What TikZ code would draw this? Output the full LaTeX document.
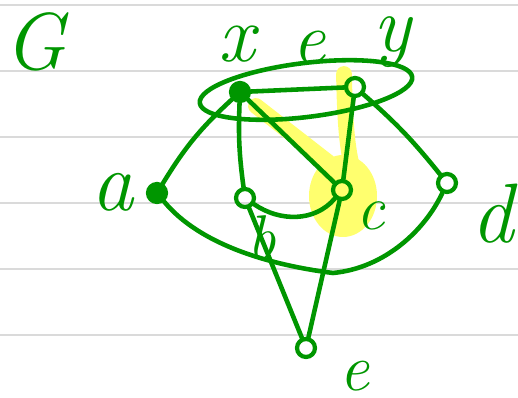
\documentclass[tikz,border=0pt]{standalone}
\definecolor{pen}{RGB}{0,150,0}
\definecolor{hl}{RGB}{255,255,110}
\definecolor{rulecol}{RGB}{218,218,218}
\newcommand\lblsize[1]{\itshape\fontsize{#1}{#1}\selectfont}
\begin{document}
\begin{tikzpicture}[x=0.02cm,y=-0.02cm,
  edge/.style={draw=pen,line width=2.6pt,line cap=round,line join=round},
  vtx/.style={circle,draw=pen,line width=2.4pt,minimum size=0.36cm,inner sep=0pt},
  vfill/.style={vtx,fill=pen},
  lbl/.style={text=pen,inner sep=0pt},
  hlstroke/.style={draw=hl,line width=9pt,line cap=round}]
\useasboundingbox (0,0) rectangle (518,398);
\fill[white] (0,0) rectangle (518,398);
\foreach \yy in {5,71,137,203,269,335} \draw[rulecol,line width=1.2pt] (0,\yy) -- (518,\yy);
% highlight
\fill[hl] (343,196) ellipse [x radius=34,y radius=41];
\draw[hlstroke] (256,106) -- (328,162);
\draw[hlstroke] (344,74) .. controls (345,130) and (348,160) .. (357,182);
% vertices
\node[vfill] (x) at (240,92) {};
\node[vtx] (y) at (355,87) {};
\node[vfill] (a) at (157,193) {};
\node[vtx] (b) at (245,198) {};
\node[vtx] (c) at (342,190) {};
\node[vtx] (d) at (447,183) {};
\node[vtx] (e) at (306,348) {};
% ellipse around x and y
\draw[edge,rotate around={7:(306,90)}] (306,90) ellipse [x radius=107,y radius=27];
% edges
\draw[edge] (x) -- (y);
\draw[edge] (x) to[bend right=8] (a);
\draw[edge] (x) to[bend right=5] (b);
\draw[edge] (x) -- (c);
\draw[edge] (y) -- (c);
\draw[edge] (y) to[bend left=5] (d);
\draw[edge] (a) .. controls (200,245) and (270,265) .. (333,273) .. controls (385,268) and (425,230) .. (d);
\draw[edge] (b) .. controls (280,222) and (315,222) .. (c);
\draw[edge] (b) -- (e);
\draw[edge] (c) -- (e);
% labels
\node[lbl,font=\lblsize{46}] (lG) at (35,42) {G};
\node[lbl,font=\lblsize{46}] (lx) at (237,44) {x};
\node[lbl,font=\lblsize{42}] (le1) at (309,48) {e};
\node[lbl,font=\lblsize{45}] (ly) at (392,42) {y};
\node[lbl,font=\lblsize{48}] (la) at (113,192) {a};
\node[lbl,font=\lblsize{36}] (lb) at (262,238) {b};
\node[lbl,font=\lblsize{36}] (lc) at (371,216) {c};
\node[lbl,font=\lblsize{48}] (ld) at (493,214) {d};
\node[lbl,font=\lblsize{38}] (le2) at (355,376) {e};
\end{tikzpicture}
\end{document}
